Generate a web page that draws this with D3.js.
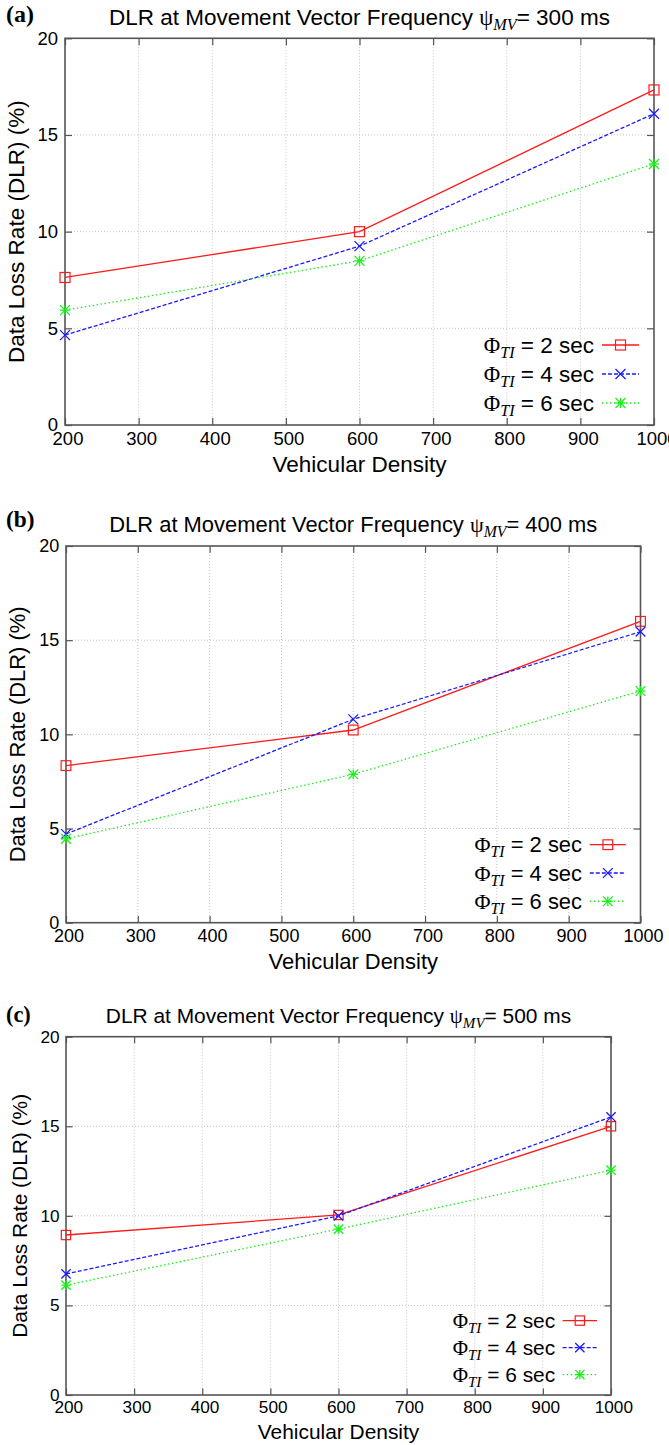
<!DOCTYPE html>
<html>
<head>
<meta charset="utf-8">
<title>DLR at Movement Vector Frequency</title>
<script src="https://d3js.org/d3.v7.min.js"></script>
<style>
  body { margin: 0; background: #fff; }
  svg text { font-family: "Liberation Sans", Arial, Helvetica, sans-serif; fill: #000; }
  .serif { font-family: "Liberation Serif", "Times New Roman", serif; }
</style>
</head>
<body>
<svg id="fig" width="669" height="1445"></svg>
<script>
// --- data ---
var densities = [200, 600, 1000];
var xTicks = [200, 300, 400, 500, 600, 700, 800, 900, 1000];
var yTicks = [0, 5, 10, 15, 20];
var phiLabels = ["2 sec", "4 sec", "6 sec"];

// DLR (%) at psi_MV = 300 ms
var dlr300_2s = [7.63, 10.0, 17.33];
var dlr300_4s = [4.65, 9.25, 16.1];
var dlr300_6s = [5.94, 8.49, 13.5];
// psi_MV = 400 ms
var dlr400_2s = [8.34, 10.23, 16.0];
var dlr400_4s = [4.71, 10.8, 15.45];
var dlr400_6s = [4.45, 7.88, 12.3];
// psi_MV = 500 ms
var dlr500_2s = [8.93, 10.05, 15.0];
var dlr500_4s = [6.76, 10.0, 15.52];
var dlr500_6s = [6.13, 9.26, 12.55];

// line styles per Phi_TI
var styles = [
  {color: "#ff1a1a", dash: null, marker: "square"},
  {color: "#1a1aff", dash: "4,2", marker: "cross"},
  {color: "#1aee1a", dash: "1.5,2.5", marker: "star"}
];

// panel layout (each panel was scaled a bit differently in the source)
var panels = [
  {tag: "(a)", freq: 300, series: [dlr300_2s, dlr300_4s, dlr300_6s],
   left: 65, right: 654, top: 38.3, bottom: 425, s: 1, tagY: 22, titleY: 25, yLabX: 24},
  {tag: "(b)", freq: 400, series: [dlr400_2s, dlr400_4s, dlr400_6s],
   left: 66, right: 640.5, top: 546, bottom: 922.7, s: 0.975, tagY: 527, titleY: 532, yLabX: 25},
  {tag: "(c)", freq: 500, series: [dlr500_2s, dlr500_4s, dlr500_6s],
   left: 66, right: 611, top: 1036.7, bottom: 1395, s: 0.93, tagY: 1022, titleY: 1023, yLabX: 26.5}
];

var svg = d3.select("#fig");
svg.append("rect").attr("width", 669).attr("height", 1445).attr("fill", "#fff");

function drawMarker(g, type, cx, cy, r, color) {
  if (type == "square") {
    g.append("rect").attr("x", cx - r).attr("y", cy - r).attr("width", 2 * r).attr("height", 2 * r)
      .attr("fill", "none").attr("stroke", color).attr("stroke-width", 1.2);
  } else {
    var segs = [[-r, -r, r, r], [-r, r, r, -r]];
    if (type == "star") segs.push([0, -r, 0, r], [-r, 0, r, 0]);
    segs.forEach(function(d) {
      g.append("line").attr("x1", cx + d[0]).attr("y1", cy + d[1]).attr("x2", cx + d[2]).attr("y2", cy + d[3])
        .attr("stroke", color).attr("stroke-width", 1.3);
    });
  }
}

function drawPanel(p) {
  var s = p.s;
  var g = svg.append("g");
  var x = d3.scaleLinear().domain([200, 1000]).range([p.left, p.right]);
  var y = d3.scaleLinear().domain([0, 20]).range([p.bottom, p.top]);
  var tickFs = 18.5 * s, labFs = 22.5 * s, tickLen = 7 * s;

  // dotted grid
  g.selectAll(".vgrid").data(xTicks.slice(1, -1)).enter().append("line")
    .attr("x1", function(d) { return x(d); }).attr("x2", function(d) { return x(d); })
    .attr("y1", p.top).attr("y2", p.bottom)
    .attr("stroke", "#c4c4c4").attr("stroke-dasharray", "1,2");
  g.selectAll(".hgrid").data(yTicks.slice(1, -1)).enter().append("line")
    .attr("x1", p.left).attr("x2", p.right)
    .attr("y1", function(d) { return y(d); }).attr("y2", function(d) { return y(d); })
    .attr("stroke", "#c4c4c4").attr("stroke-dasharray", "1,2");

  // axes, ticks pointing inward on all four sides
  var fmt = d3.format("d");
  var ax = [
    [d3.axisBottom(x).tickValues(xTicks).tickFormat(fmt).tickSize(-tickLen).tickPadding(19.5 * s - 0.71 * tickFs), p.bottom, 0, true],
    [d3.axisTop(x).tickValues(xTicks).tickSize(-tickLen).tickFormat(""), p.top, 0, false],
    [d3.axisLeft(y).tickValues(yTicks).tickFormat(fmt).tickSize(-tickLen).tickPadding(7 * s), 0, p.left, true],
    [d3.axisRight(y).tickValues(yTicks).tickSize(-tickLen).tickFormat(""), 0, p.right, false]
  ];
  ax.forEach(function(a, i) {
    var ag = g.append("g").attr("transform", "translate(" + a[2] + "," + a[1] + ")").call(a[0]);
    ag.select(".domain").remove();
    ag.selectAll(".tick line").attr("stroke", "#555").attr("stroke-width", 1.2);
    ag.selectAll("text").attr("font-family", "Liberation Sans, Arial, sans-serif")
      .attr("font-size", tickFs).attr("fill", "#000");
    if (i == 0) ag.selectAll("text").attr("dx", 2.5 * s);
  });

  // border
  g.append("rect").attr("x", p.left).attr("y", p.top)
    .attr("width", p.right - p.left).attr("height", p.bottom - p.top)
    .attr("fill", "none").attr("stroke", "#555").attr("stroke-width", 1.6);

  // series
  var line = d3.line().x(function(d, i) { return x(densities[i]); }).y(function(d) { return y(d); });
  p.series.forEach(function(vals, k) {
    var st = styles[k];
    g.append("path").datum(vals).attr("d", line)
      .attr("fill", "none").attr("stroke", st.color).attr("stroke-width", 1.3)
      .attr("stroke-dasharray", st.dash);
    vals.forEach(function(v, i) {
      drawMarker(g, st.marker, x(densities[i]), y(v), 5 * s, st.color);
    });
  });

  // legend
  var textRight = p.right - 60 * s;
  var rowOff = [80, 51, 22];
  phiLabels.forEach(function(lbl, k) {
    var st = styles[k];
    var ry = p.bottom - rowOff[k] * s;
    var t = g.append("text").attr("x", textRight).attr("y", ry).attr("dy", "0.35em")
      .attr("text-anchor", "end").attr("font-size", labFs);
    t.append("tspan").attr("class", "serif").text("\u03A6");
    t.append("tspan").attr("class", "serif").attr("font-style", "italic")
      .attr("font-size", labFs * 0.72).attr("dy", 5 * s).text("TI");
    t.append("tspan").attr("dy", -5 * s).text(" = " + lbl);
    g.append("line").attr("x1", textRight + 8 * s).attr("x2", textRight + 45 * s)
      .attr("y1", ry).attr("y2", ry)
      .attr("stroke", st.color).attr("stroke-width", 1.3).attr("stroke-dasharray", st.dash);
    drawMarker(g, st.marker, textRight + 26.5 * s, ry, 5 * s, st.color);
  });

  // title
  var tt = g.append("text").attr("x", (p.left + p.right) / 2).attr("y", p.titleY)
    .attr("text-anchor", "middle").attr("font-size", labFs);
  tt.append("tspan").text("DLR at Movement Vector Frequency ");
  tt.append("tspan").attr("class", "serif").text("\u03C8");
  tt.append("tspan").attr("class", "serif").attr("font-style", "italic")
    .attr("font-size", labFs * 0.72).attr("dy", 5 * s).text("MV");
  tt.append("tspan").attr("dy", -5 * s).text("= " + p.freq + " ms");

  // panel tag
  g.append("text").attr("class", "serif").attr("x", 6).attr("y", p.tagY)
    .attr("font-size", 24 * s).attr("font-weight", "bold").text(p.tag);

  // axis labels
  g.append("text").attr("x", (p.left + p.right) / 2).attr("y", p.bottom + 47 * s)
    .attr("text-anchor", "middle").attr("font-size", labFs).text("Vehicular Density");
  g.append("text").attr("transform", "translate(" + p.yLabX + "," + (p.top + p.bottom) / 2 + ") rotate(-90)")
    .attr("text-anchor", "middle").attr("font-size", labFs).text("Data Loss Rate (DLR) (%)");
}

panels.forEach(drawPanel);
</script>
</body>
</html>
